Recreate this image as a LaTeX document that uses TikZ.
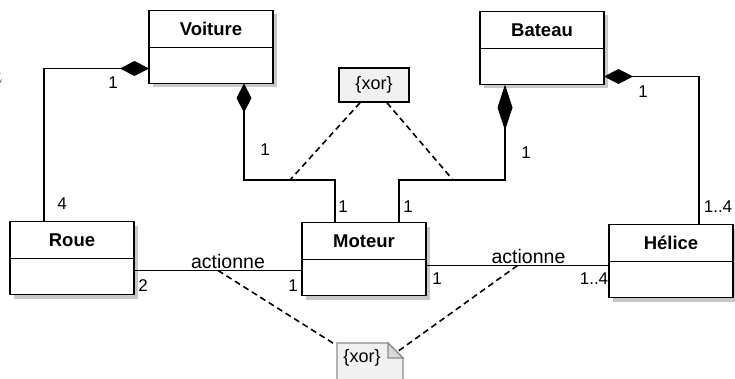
\documentclass[tikz,border=0pt]{standalone}
\usepackage{fontspec}
\setmainfont{Liberation Sans}
\usetikzlibrary{positioning,arrows.meta,shadows}
\definecolor{umlshadow}{HTML}{C8C8C8}
\definecolor{umlnote}{HTML}{F1F1F1}
\definecolor{umlfold}{HTML}{D9D9D9}

\begin{document}
\begin{tikzpicture}[x=1pt, y=-1pt,
  classhead/.style={draw, fill=white, line width=1.9pt, minimum width=124pt,
               minimum height=37pt, inner sep=0pt, outer sep=0pt,
               font=\fontsize{18.5}{21}\selectfont\bfseries,
               drop shadow={shadow xshift=4pt, shadow yshift=-4pt,
                            fill=umlshadow, opacity=1}},
  classbody/.style={classhead, minimum height=36pt},
  xornote/.style={draw, fill=umlnote, line width=1.6pt, minimum width=70pt,
               minimum height=34pt, inner sep=0pt, font=\fontsize{18}{20}\selectfont},
  comp/.style={line width=1.9pt, -{Diamond[length=29pt, width=15pt]}},
  complong/.style={line width=1.9pt, -{Diamond[length=46pt, width=15pt]}},
  assoc/.style={line width=1.9pt},
  xorlink/.style={line width=1.6pt, dash pattern=on 6pt off 4pt},
  mult/.style={font=\fontsize{17}{19}\selectfont, inner sep=1pt},
  lbl/.style={font=\fontsize{19.5}{21}\selectfont, inner sep=1pt},
]
\useasboundingbox (0,0) rectangle (735,379);
\clip (0,0) rectangle (735,379);

% stray glyph cut by the left edge
\node[font=\fontsize{24}{26}\selectfont] (stray) at (-4,78) {$a$};

% Classes
\node[classhead] (voiture) at (211,29) {Voiture};
\node[classbody, below=0pt of voiture] (voitureb) {};
\node[classhead] (bateau) at (542,30) {Bateau};
\node[classbody, below=0pt of bateau] (bateaub) {};
\node[classhead] (roue) at (72,240) {Roue};
\node[classbody, below=0pt of roue] (roueb) {};
\node[classhead] (moteur) at (364,241) {Moteur};
\node[classbody, below=0pt of moteur] (moteurb) {};
\node[classhead] (helice) at (671,243) {Hélice};
\node[classbody, below=0pt of helice] (heliceb) {};

% Top constraint
\node[xornote] (xortop) at (374,85) {\{xor\}};

% Compositions
\coordinate (xl) at (290,180);
\coordinate (xr) at (453,180);
\draw[comp] ([xshift=-28pt]roue.north) |- ([yshift=-3pt]voitureb.west);
\draw[comp] ([xshift=-29pt]moteur.north) |- (xl) -| ([xshift=33pt]voitureb.south);
\draw[complong] ([xshift=35pt]moteur.north) |- (xr) -| ([xshift=-37pt]bateaub.south);
\draw[comp] ([xshift=28pt]helice.north) |- ([yshift=-10pt]bateaub.east);

% Associations
\draw[assoc] ([yshift=6pt]roueb.east)
  -- node[lbl, above, xshift=10pt] {actionne} coordinate[midway] (act1)
  ([yshift=6pt]roueb.east -| moteurb.west);
\draw[assoc] ([yshift=12pt]moteurb.east)
  -- node[lbl, above, xshift=11pt] {actionne} coordinate[midway] (act2)
  ([yshift=12pt]moteurb.east -| heliceb.west);

% Multiplicities
\node[mult] (m1) at (113,83) {1};
\node[mult] (m2) at (62,204) {4};
\node[mult] (m3) at (265,150) {1};
\node[mult] (m4) at (343,207) {1};
\node[mult] (m5) at (526,153) {1};
\node[mult] (m6) at (408,207) {1};
\node[mult] (m7) at (643,92) {1};
\node[mult] (m8) at (718,207) {1..4};
\node[mult] (m9) at (143,286) {2};
\node[mult] (m10) at (293,286) {1};
\node[mult] (m11) at (437,279) {1};
\node[mult] (m12) at (594,279) {1..4};

% Bottom constraint (dog-eared note)
\filldraw[fill=umlnote, draw=black!45, line width=1.3pt]
  (337,343) -- (388,343) -- (403,358) -- (403,395) -- (337,395) -- cycle;
\filldraw[fill=umlfold, draw=black!45, line width=1.3pt]
  (388,343) -- (388,358) -- (403,358) -- cycle;
\node[lbl, font=\fontsize{18}{20}\selectfont] (xorbot) at (362,358) {\{xor\}};
\coordinate (nbl) at (336,345);
\coordinate (nbf) at (397,352);

% Constraint links
\draw[xorlink] ([xshift=-14pt]xortop.south) -- (xl);
\draw[xorlink] ([xshift=13pt]xortop.south) -- (xr);
\draw[xorlink] (act1) -- (nbl);
\draw[xorlink] (act2) -- (nbf);

\end{tikzpicture}
\end{document}
